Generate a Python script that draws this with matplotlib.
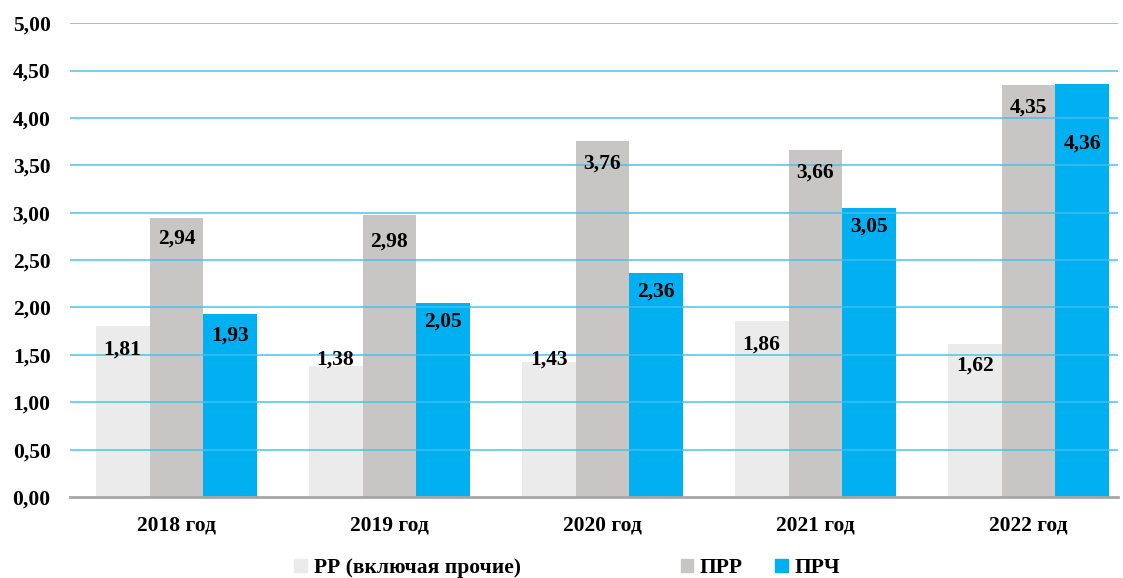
import numpy as np
import matplotlib as mpl
mpl.use('Agg')
import matplotlib.pyplot as plt
from matplotlib.patches import Patch

years = ['2018 год', '2019 год', '2020 год', '2021 год', '2022 год']
rr = [1.81, 1.38, 1.43, 1.86, 1.62]
prr = [2.94, 2.98, 3.76, 3.66, 4.35]
prch = [1.93, 2.05, 2.36, 3.05, 4.36]
series_names = ['РР (включая прочие)', 'ПРР', 'ПРЧ']

# где стоят подписи значений (как на исходной диаграмме)
label_y = [[1.56, 1.45, 1.45, 1.61, 1.39],
           [2.73, 2.69, 3.52, 3.42, 4.11],
           [1.70, 1.85, 2.17, 2.85, 3.73]]

colors = ['#EBEBEB', '#C8C6C4', '#00B0F0']
plt.rcParams['font.family'] = ['Liberation Serif', 'DejaVu Serif']
plt.rcParams['font.weight'] = 'bold'
fs = 15.5

fig = plt.figure(figsize=(11.23, 5.78), dpi=100)
ax = fig.add_axes([0.0623, 0.14, 0.9332, 0.82])

x = np.arange(len(years))
w = 0.253
for i, vals in enumerate([rr, prr, prch]):
    xs = x + (i - 1) * w
    ax.bar(xs, vals, width=w, color=colors[i], zorder=2)
    for xi, v, ly in zip(xs, vals, label_y[i]):
        ax.text(xi, ly, f'{v:.2f}'.replace('.', ','), ha='center', va='center',
                fontsize=fs, fontweight='bold', zorder=4)

ax.set_ylim(0, 5)
ax.set_xlim(-0.5, 4.42)
yt = np.arange(0, 5.01, 0.5)
ax.set_yticks(yt)
ax.set_yticklabels([f'{t:.2f}'.replace('.', ',') for t in yt], fontsize=fs, fontweight='bold')
ax.set_xticks(x)
ax.set_xticklabels(years, fontsize=fs, fontweight='bold')
ax.tick_params(length=0, pad=13)
ax.tick_params(axis='y', pad=14)
for y in yt[1:]:
    ax.axhline(y, color='#45BFEC', lw=1.3, zorder=3, alpha=0.8)
for s in ['top', 'right', 'left']:
    ax.spines[s].set_visible(False)
ax.spines['bottom'].set_color('#A6A6A6')
ax.spines['bottom'].set_linewidth(2)
ax.spines['bottom'].set_zorder(5)

leg_x = [0.262, 0.606, 0.690]
for name, c, lx in zip(series_names, colors, leg_x):
    fig.legend(handles=[Patch(color=c)], labels=[name], loc='center left',
               bbox_to_anchor=(lx, 0.017), frameon=False, handlelength=0.6,
               handleheight=0.6, handletextpad=0.3, borderpad=0, borderaxespad=0,
               prop={'size': fs, 'weight': 'bold'})

fig.savefig('out.png', dpi=100)
